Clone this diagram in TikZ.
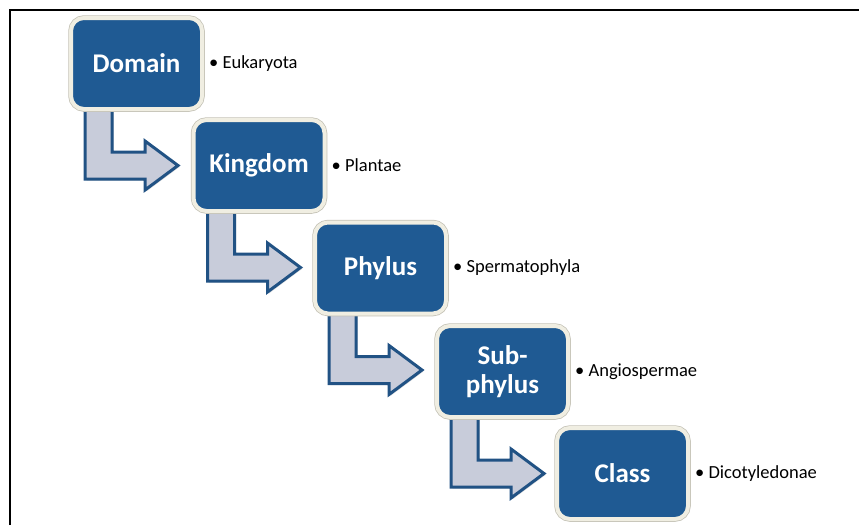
\documentclass[tikz,border=0pt]{standalone}
\usepackage{fontspec}
\setmainfont{Carlito}
\usetikzlibrary{calc,shadows,backgrounds}
\definecolor{boxblue}{RGB}{31,90,147}
\definecolor{cream}{RGB}{240,238,226}
\definecolor{creamedge}{RGB}{196,194,182}
\definecolor{arrowedge}{RGB}{33,82,132}
\definecolor{arrowfill}{RGB}{200,204,218}
\newcommand\bentarrow[1]{%
  \draw[blockarrow]
    ($(#1.center)+(-51.5,40)$) -- ($(#1.center)+(-51.5,115.5)$)
    -- ($(#1.center)+(8.5,115.5)$) -- ($(#1.center)+(8.5,126.5)$)
    -- ($(#1.center)+(41.5,102)$) -- ($(#1.center)+(8.5,77.5)$)
    -- ($(#1.center)+(8.5,88.5)$) -- ($(#1.center)+(-24.5,88.5)$)
    -- ($(#1.center)+(-24.5,40)$) -- cycle;}
\begin{document}
\begin{tikzpicture}[x=1pt,y=-1pt,
  taxon/.style={rectangle, rounded corners=13pt, minimum width=131pt,
    minimum height=91pt, inner sep=0pt, fill=boxblue, draw=cream,
    line width=4pt, preaction={draw=creamedge, line width=5.5pt},
    drop shadow={shadow xshift=1.2pt, shadow yshift=-1.5pt, opacity=0.25},
    text=white, font=\fontsize{27}{29}\selectfont\bfseries, align=center},
  info/.style={anchor=west, inner sep=0pt, font=\fontsize{18.5}{22}\selectfont},
  blockarrow/.style={fill=arrowfill, draw=arrowedge, line width=3pt,
    line join=miter,
    drop shadow={shadow xshift=1.5pt, shadow yshift=-1.5pt, opacity=0.25}}]
\useasboundingbox (0,0) rectangle (859,525);
\draw[line width=2pt] (10,525) -- (10,10) -- (859,10);

\node[taxon] (domain) at (136.5,63.5) {Domain};
\node[taxon] (kingdom) at (259,165.5) {Kingdom};
\node[taxon] (phylus) at (380.5,268) {Phylus};
\node[taxon] (subphylus) at (502.5,371.5) {Sub-\\phylus};
\node[taxon] (class) at (622.5,473.5) {Class};

\node[info] (l1) at ([xshift=5pt]domain.east) {• Eukaryota};
\node[info] (l2) at ([xshift=5pt]kingdom.east) {• Plantae};
\node[info] (l3) at ([xshift=5pt]phylus.east) {• Spermatophyla};
\node[info] (l4) at ([xshift=5pt]subphylus.east) {• Angiospermae};
\node[info] (l5) at ([xshift=5pt]class.east) {• Dicotyledonae};

\begin{pgfonlayer}{background}
\bentarrow{domain}
\bentarrow{kingdom}
\bentarrow{phylus}
\bentarrow{subphylus}
\end{pgfonlayer}
\end{tikzpicture}
\end{document}
